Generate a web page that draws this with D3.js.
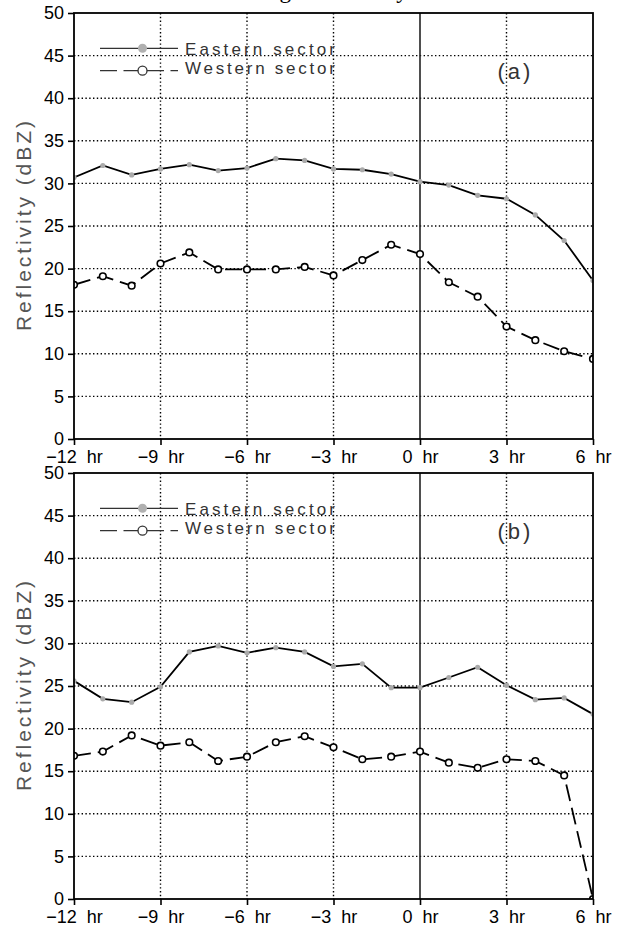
<!DOCTYPE html>
<html>
<head>
<meta charset="utf-8">
<script src="https://cdn.jsdelivr.net/npm/d3@7/dist/d3.min.js"></script>
<style>
  body { margin: 0; background: #fff; }
  svg { display: block; }
</style>
</head>
<body>
<div id="chart"></div>
<script>
// hours relative to time 0
var hours = [-12, -11, -10, -9, -8, -7, -6, -5, -4, -3, -2, -1, 0, 1, 2, 3, 4, 5, 6];
// panel (a)
var eastA = [30.7, 32.1, 31.0, 31.7, 32.2, 31.5, 31.8, 32.9, 32.7, 31.7, 31.6, 31.1, 30.2, 29.8, 28.6, 28.2, 26.3, 23.3, 18.6];
var westA = [18.1, 19.1, 18.0, 20.6, 21.9, 19.9, 19.9, 19.9, 20.2, 19.2, 21.0, 22.8, 21.7, 18.4, 16.7, 13.2, 11.6, 10.3, 9.4];
// panel (b)
var eastB = [25.6, 23.5, 23.1, 24.9, 29.0, 29.7, 28.9, 29.5, 29.0, 27.3, 27.6, 24.8, 24.8, 26.0, 27.2, 25.1, 23.4, 23.6, 21.7];
var westB = [16.8, 17.3, 19.2, 18.0, 18.4, 16.2, 16.7, 18.4, 19.1, 17.8, 16.4, 16.7, 17.3, 16.0, 15.4, 16.4, 16.2, 14.5, 0];

var xTicks = [-12, -9, -6, -3, 0, 3, 6];
var yTicks = [0, 5, 10, 15, 20, 25, 30, 35, 40, 45, 50];
var seriesNames = ["Eastern sector", "Western sector"];
var panelLabels = ["(a)", "(b)"];
var titleText = "Average reflectivity";
var yLabel = "Reflectivity (dBZ)";

// layout
var W = 620, H = 929;
var left = 74, plotW = 519, plotH = 426;
var panelTops = [13, 473];

var svg = d3.select("#chart").append("svg")
    .attr("width", W)
    .attr("height", H);

// title (only its descenders show in the picture)
svg.append("text")
    .attr("x", 225)
    .attr("y", -2.5)
    .attr("font-family", "Liberation Serif, serif")
    .attr("font-size", 23)
    .text(titleText);

var x = d3.scaleLinear().domain([-12, 6]).range([0, plotW]);
var y = d3.scaleLinear().domain([0, 50]).range([plotH, 0]);

svg.append("defs").append("clipPath")
    .attr("id", "plotClip")
    .append("rect")
    .attr("width", plotW)
    .attr("height", plotH);

var panels = [
    {east: eastA, west: westA, label: panelLabels[0]},
    {east: eastB, west: westB, label: panelLabels[1]}
];

var seriesLine = function (vals) {
    return d3.line()
        .x(function (d, i) { return x(hours[i]); })
        .y(function (d) { return y(d); })(vals);
};

panels.forEach(function (p, k) {
    var g = svg.append("g")
        .attr("transform", "translate(" + left + "," + panelTops[k] + ")");

    // dotted grid
    g.append("g").selectAll("line.hgrid")
        .data(yTicks.filter(function (d) { return d > 0 && d < 50; }))
        .join("line")
        .attr("x1", 0).attr("x2", plotW)
        .attr("y1", function (d) { return y(d); })
        .attr("y2", function (d) { return y(d); })
        .attr("stroke", "#000")
        .attr("stroke-width", 1.4)
        .attr("stroke-dasharray", "1.4,2.4");

    g.append("g").selectAll("line.vgrid")
        .data(xTicks.filter(function (d) { return d != -12 && d != 6; }))
        .join("line")
        .attr("y1", 0).attr("y2", plotH)
        .attr("x1", function (d) { return x(d); })
        .attr("x2", function (d) { return x(d); })
        .attr("stroke", function (d) { return d == 0 ? "#222" : "#000"; })
        .attr("stroke-width", function (d) { return d == 0 ? 1.6 : 1.4; })
        .attr("stroke-dasharray", function (d) { return d == 0 ? null : "1.4,2.4"; });

    // y axis
    var yAx = g.append("g")
        .call(d3.axisLeft(y).tickValues(yTicks).tickSize(6).tickPadding(4));
    yAx.select(".domain").remove();
    yAx.selectAll(".tick line").attr("stroke", "#000").attr("stroke-width", 1.6);
    yAx.selectAll(".tick text")
        .attr("font-family", "Liberation Sans, Arial, sans-serif")
        .attr("font-size", 18)
        .attr("fill", "#000");

    // x axis
    var xAx = g.append("g")
        .attr("transform", "translate(0," + plotH + ")")
        .call(d3.axisBottom(x).tickValues(xTicks).tickSize(6));
    xAx.select(".domain").remove();
    xAx.selectAll(".tick line").attr("stroke", "#000").attr("stroke-width", 1.6);
    xAx.selectAll(".tick text").each(function (d) {
        var t = d3.select(this);
        t.text(null)
            .attr("y", 24)
            .attr("dy", 0)
            .attr("font-family", "Liberation Sans, Arial, sans-serif")
            .attr("font-size", 18)
            .attr("fill", "#000");
        t.append("tspan").text(d < 0 ? "\u2212" + Math.abs(d) : String(d));
        t.append("tspan").attr("dx", 10).text("hr");
    });

    // y axis title
    g.append("text")
        .attr("transform", "translate(" + (31 - left) + "," + (plotH / 2) + ") rotate(-90)")
        .attr("text-anchor", "middle")
        .attr("font-family", "Liberation Sans, Arial, sans-serif")
        .attr("font-size", 21)
        .attr("fill", "#555")
        .attr("textLength", 210)
        .attr("lengthAdjust", "spacing")
        .text(yLabel);

    // data lines
    var plot = g.append("g").attr("clip-path", "url(#plotClip)");

    plot.append("path")
        .attr("d", seriesLine(p.east))
        .attr("fill", "none")
        .attr("stroke", "#000")
        .attr("stroke-width", 1.8);

    plot.selectAll("circle.east")
        .data(p.east)
        .join("circle")
        .attr("cx", function (d, i) { return x(hours[i]); })
        .attr("cy", function (d) { return y(d); })
        .attr("r", 2.6)
        .attr("fill", "#aaa");

    plot.append("path")
        .attr("d", seriesLine(p.west))
        .attr("fill", "none")
        .attr("stroke", "#000")
        .attr("stroke-width", 1.8)
        .attr("stroke-dasharray", "17,7");

    plot.selectAll("circle.west")
        .data(p.west)
        .join("circle")
        .attr("cx", function (d, i) { return x(hours[i]); })
        .attr("cy", function (d) { return y(d); })
        .attr("r", 3.3)
        .attr("fill", "#fff")
        .attr("stroke", "#000")
        .attr("stroke-width", 1.6);

    // frame
    g.append("rect")
        .attr("width", plotW)
        .attr("height", plotH)
        .attr("fill", "none")
        .attr("stroke", "#000")
        .attr("stroke-width", 1.8);

    // legend
    var lg = g.append("g").attr("transform", "translate(" + (100 - left) + ",0)");
    lg.append("line")
        .attr("x1", 0).attr("x2", 78)
        .attr("y1", 35.3).attr("y2", 35.3)
        .attr("stroke", "#333").attr("stroke-width", 1.3);
    lg.append("circle")
        .attr("cx", 42.5).attr("cy", 35.3).attr("r", 4.5)
        .attr("fill", "#b0b0b0");
    lg.append("line")
        .attr("x1", 0).attr("x2", 78)
        .attr("y1", 57.7).attr("y2", 57.7)
        .attr("stroke", "#333").attr("stroke-width", 1.3)
        .attr("stroke-dasharray", "17,6.5");
    lg.append("circle")
        .attr("cx", 42.5).attr("cy", 57.7).attr("r", 4.5)
        .attr("fill", "#fff")
        .attr("stroke", "#333").attr("stroke-width", 1.3);
    [42, 60.5].forEach(function (ty, j) {
        lg.append("text")
            .attr("x", 85)
            .attr("y", ty)
            .attr("font-family", "Liberation Sans, Arial, sans-serif")
            .attr("font-size", 17)
            .attr("fill", "#333")
            .attr("textLength", 150)
            .attr("lengthAdjust", "spacing")
            .text(seriesNames[j]);
    });

    // panel label
    g.append("text")
        .attr("x", 515.5 - left)
        .attr("y", 65.7)
        .attr("text-anchor", "middle")
        .attr("font-family", "Liberation Sans, Arial, sans-serif")
        .attr("font-size", 22)
        .attr("fill", "#333")
        .attr("letter-spacing", 3)
        .text(p.label);
});
</script>
</body>
</html>
